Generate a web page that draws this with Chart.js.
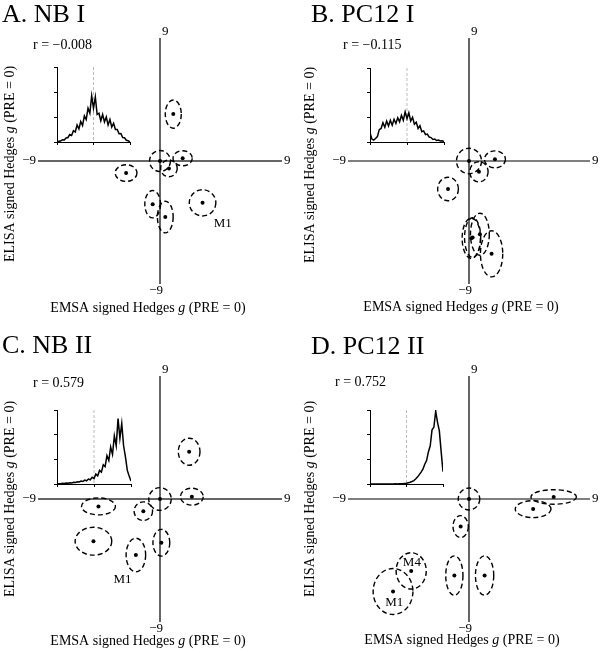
<!DOCTYPE html>
<html>
<head>
<meta charset="utf-8">
<script src="https://cdn.jsdelivr.net/npm/chart.js@4.4.1/dist/chart.umd.min.js"></script>
<style>
body { margin: 0; background: #fff; }
#fig { position: relative; width: 600px; height: 652px; }
#fig canvas { position: absolute; }
</style>
</head>
<body>
<div id="fig"></div>
<script>
// A. NB I - study means (EMSA g, ELISA g) and ellipse half-widths
let aX = [0.98, 0, 1.67, 0.66, -2.5, -0.54, 0.39, 3.14];
let aY = [3.43, 0, 0.2, -0.54, -0.88, -3.16, -4.1, -3.06];
let aRx = [0.59, 0.77, 0.71, 0.61, 0.8, 0.58, 0.58, 0.98];
let aRy = [1.03, 0.77, 0.55, 0.61, 0.61, 1.0, 1.16, 0.96];

// B. PC12 I
let bX = [0, 1.93, 0.74, -1.56, 0.17, 0.27, 0.81, 1.68];
let bY = [0, 0.12, -0.79, -2.05, -5.65, -5.6, -5.36, -6.79];
let bRx = [0.93, 0.78, 0.68, 0.77, 0.68, 0.6, 0.7, 0.83];
let bRy = [0.93, 0.62, 0.74, 0.86, 1.48, 1.45, 1.54, 1.69];

// C. NB II
let cX = [2.15, 0, 2.35, -4.54, -1.23, -4.91, 0.1, -1.78];
let cY = [3.46, 0, 0.17, -0.54, -0.89, -3.09, -3.2, -4.1];
let cRx = [0.8, 0.83, 0.84, 1.25, 0.68, 1.35, 0.62, 0.72];
let cRy = [0.99, 0.83, 0.62, 0.62, 0.68, 1.02, 0.98, 1.23];

// D. PC12 II
let dX = [0, 6.3, 4.77, -0.62, -1.09, 1.16, -4.3, -5.65];
let dY = [0, 0.15, -0.74, -2.02, -5.6, -5.6, -5.26, -6.77];
let dRx = [0.8, 1.69, 1.33, 0.57, 0.64, 0.68, 1.12, 1.48];
let dRy = [0.8, 0.53, 0.62, 0.8, 1.44, 1.44, 1.33, 1.68];

// study tags
let aTags = ["M1"], aTagX = [4.63], aTagY = [-4.56];
let bTags = [], bTagX = [], bTagY = [];
let cTags = ["M1"], cTagX = [-2.77], cTagY = [-5.93];
let dTags = ["M4", "M1"], dTagX = [-4.25, -5.56], dTagY = [-4.62, -7.6];

let rLabels = ["r = \u22120.008", "r = \u22120.115", "r = 0.579", "r = 0.752"];
let panelTitles = ["A. NB I", "B. PC12 I", "C. NB II", "D. PC12 II"];

// inset histograms (bootstrap r distribution)
let histBins = [-1, -0.95, -0.9, -0.85, -0.8, -0.75, -0.7, -0.65, -0.6, -0.55, -0.5,
  -0.45, -0.4, -0.35, -0.3, -0.25, -0.2, -0.15, -0.1, -0.05, 0, 0.05, 0.1, 0.15, 0.2,
  0.25, 0.3, 0.35, 0.4, 0.45, 0.5, 0.55, 0.6, 0.65, 0.7, 0.75, 0.8, 0.85, 0.9, 0.95, 1];
let histA = [0, 0.03, 0.04, 0.09, 0.08, 0.16, 0.18, 0.3, 0.26, 0.45, 0.4, 0.68, 0.52, 0.82,
  0.66, 1.05, 0.9, 1.35, 1.15, 1.85, 1.35, 1.8, 1.1, 1.15, 0.85, 1.1, 0.8, 1.0, 0.68, 0.9,
  0.6, 0.75, 0.5, 0.5, 0.33, 0.34, 0.18, 0.17, 0.07, 0.05, 0.01];
let histB = [0.38, 0.12, 0.08, 0.14, 0.22, 0.5, 0.55, 0.78, 0.6, 0.85, 0.65, 0.88, 0.68,
  0.92, 0.75, 0.98, 0.82, 1.08, 0.88, 1.22, 0.95, 1.18, 0.85, 1.0, 0.72, 0.8, 0.55, 0.66,
  0.42, 0.45, 0.3, 0.32, 0.2, 0.18, 0.1, 0.12, 0.06, 0.08, 0.04, 0.05, 0.02];
let histC = [0, 0.01, 0.01, 0.03, 0.02, 0.04, 0.03, 0.05, 0.04, 0.07, 0.06, 0.09, 0.08,
  0.12, 0.1, 0.16, 0.13, 0.2, 0.17, 0.27, 0.22, 0.4, 0.33, 0.55, 0.48, 0.78, 0.7, 1.15,
  0.95, 1.5, 1.2, 1.95, 1.55, 2.65, 1.85, 2.45, 1.55, 1.1, 0.55, 0.32, 0.12];
let histD = [0, 0, 0, 0, 0, 0, 0, 0, 0, 0, 0, 0, 0, 0, 0.01, 0, 0.01, 0.01, 0.01, 0.02,
  0.03, 0.05, 0.07, 0.1, 0.14, 0.2, 0.28, 0.38, 0.48, 0.6, 0.8, 0.95, 1.3, 1.55, 2.2,
  2.3, 2.95, 2.5, 2.15, 1.3, 0.5];

const serif = '"Liberation Serif", "Times New Roman", serif';
const fig = document.getElementById("fig");

const panels = [
  { ox: 0, oy: 0, cx: 160, cy: 161, hx: 122, hy: 123, axis: "#666", axisW: 2,
    xs: aX, ys: aY, rx: aRx, ry: aRy, tags: aTags, tagX: aTagX, tagY: aTagY,
    hist: histA, inset: [57, 67, 130, 142], titlePos: [2, 15], rPos: [33, 45],
    xTitle: [148, 308], yTitle: [10, 164] },
  { ox: 300, oy: 0, cx: 169, cy: 161, hx: 121, hy: 123, axis: "#000", axisW: 1.2,
    xs: bX, ys: bY, rx: bRx, ry: bRy, tags: bTags, tagX: bTagX, tagY: bTagY,
    hist: histB, inset: [70, 68, 144, 142], titlePos: [11, 15], rPos: [43, 45],
    xTitle: [161, 307], yTitle: [10, 165] },
  { ox: 0, oy: 326, cx: 160, cy: 173, hx: 122, hy: 123, axis: "#666", axisW: 2,
    xs: cX, ys: cY, rx: cRx, ry: cRy, tags: cTags, tagX: cTagX, tagY: cTagY,
    hist: histC, inset: [57, 84, 131, 158], titlePos: [2, 20], rPos: [33, 57],
    xTitle: [148, 315], yTitle: [10, 173] },
  { ox: 300, oy: 326, cx: 169, cy: 173, hx: 121, hy: 123, axis: "#000", axisW: 1.2,
    xs: dX, ys: dY, rx: dRx, ry: dRy, tags: dTags, tagX: dTagX, tagY: dTagY,
    hist: histD, inset: [70, 84, 143, 158], titlePos: [11, 21], rPos: [35, 56],
    xTitle: [162, 314], yTitle: [10, 173] }
];

function drawRuns(ctx, runs, x, y, size) {
  let w = 0;
  runs.forEach(r => {
    ctx.font = (r[1] ? "italic " : "") + size + "px " + serif;
    w += ctx.measureText(r[0]).width;
  });
  let px = x - w / 2;
  ctx.textAlign = "left";
  ctx.textBaseline = "middle";
  runs.forEach(r => {
    ctx.font = (r[1] ? "italic " : "") + size + "px " + serif;
    ctx.fillText(r[0], px, y);
    px += ctx.measureText(r[0]).width;
  });
}

function makeCanvas(left, top, w, h) {
  const c = document.createElement("canvas");
  c.width = w;
  c.height = h;
  c.style.left = left + "px";
  c.style.top = top + "px";
  c.style.width = w + "px";
  c.style.height = h + "px";
  fig.appendChild(c);
  return c;
}

panels.forEach((p, k) => {
  const main = makeCanvas(p.ox, p.oy, 300, 326);

  const crossPlugin = {
    id: "cross" + k,
    beforeDatasetsDraw(chart) {
      const ctx = chart.ctx, sx = chart.scales.x, sy = chart.scales.y;
      const x0 = sx.getPixelForValue(0), y0 = sy.getPixelForValue(0);
      ctx.save();
      ctx.strokeStyle = p.axis;
      ctx.lineWidth = p.axisW;
      ctx.beginPath();
      ctx.moveTo(sx.getPixelForValue(-9), y0);
      ctx.lineTo(sx.getPixelForValue(9), y0);
      ctx.moveTo(x0, sy.getPixelForValue(9));
      ctx.lineTo(x0, sy.getPixelForValue(-9));
      ctx.stroke();

      // dashed ellipses round each study point
      ctx.strokeStyle = "#000";
      ctx.lineWidth = 1.4;
      ctx.setLineDash([5, 3]);
      p.xs.forEach((x, i) => {
        const cxp = sx.getPixelForValue(x), cyp = sy.getPixelForValue(p.ys[i]);
        const rxp = Math.abs(sx.getPixelForValue(x + p.rx[i]) - cxp);
        const ryp = Math.abs(sy.getPixelForValue(p.ys[i] + p.ry[i]) - cyp);
        ctx.beginPath();
        ctx.ellipse(cxp, cyp, rxp, ryp, 0, 0, 2 * Math.PI);
        ctx.stroke();
      });
      ctx.restore();
    },
    afterDraw(chart) {
      const ctx = chart.ctx, sx = chart.scales.x, sy = chart.scales.y;
      const x0 = sx.getPixelForValue(0), y0 = sy.getPixelForValue(0);
      ctx.save();
      ctx.fillStyle = "#000";
      ctx.textBaseline = "middle";
      ctx.font = "13px " + serif;
      ctx.textAlign = "left";
      ctx.fillText("9", x0 + 2, sy.getPixelForValue(9) - 6);
      ctx.fillText("9", sx.getPixelForValue(9) + 2, y0);
      ctx.textAlign = "right";
      ctx.fillText("\u22129", x0 + 3, sy.getPixelForValue(-9) + 7);
      ctx.fillText("\u22129", sx.getPixelForValue(-9) - 2, y0);

      ctx.font = "13px " + serif;
      ctx.textAlign = "center";
      p.tags.forEach((t, i) => {
        ctx.fillText(t, sx.getPixelForValue(p.tagX[i]), sy.getPixelForValue(p.tagY[i]));
      });

      ctx.font = "26px " + serif;
      ctx.textAlign = "left";
      ctx.fillText(panelTitles[k], p.titlePos[0], p.titlePos[1]);

      ctx.font = "14px " + serif;
      ctx.fillText(rLabels[k], p.rPos[0], p.rPos[1]);

      drawRuns(ctx, [["EMSA signed Hedges ", false], ["g", true], [" (PRE = 0)", false]],
        p.xTitle[0], p.xTitle[1], 14);
      ctx.translate(p.yTitle[0], p.yTitle[1]);
      ctx.rotate(-Math.PI / 2);
      drawRuns(ctx, [["ELISA signed Hedges ", false], ["g", true], [" (PRE = 0)", false]],
        0, 0, 14);
      ctx.restore();
    }
  };

  new Chart(main, {
    type: "scatter",
    data: {
      datasets: [{
        data: p.xs.map((x, i) => ({ x: x, y: p.ys[i] })),
        pointRadius: 2,
        pointBackgroundColor: "#000",
        pointBorderWidth: 0
      }]
    },
    options: {
      responsive: false,
      animation: false,
      layout: {
        padding: {
          left: p.cx - p.hx, right: 300 - p.cx - p.hx,
          top: p.cy - p.hy, bottom: 326 - p.cy - p.hy
        }
      },
      scales: {
        x: { type: "linear", min: -9, max: 9, display: false },
        y: { type: "linear", min: -9, max: 9, display: false }
      },
      plugins: { legend: { display: false }, tooltip: { enabled: false } }
    },
    plugins: [crossPlugin]
  });

  // inset histogram
  const L = p.inset[0], T = p.inset[1], R = p.inset[2], B = p.inset[3];
  const inset = makeCanvas(p.ox + L - 10, p.oy + T - 10, R - L + 20, B - T + 20);
  const zeroLine = {
    id: "zero" + k,
    beforeDatasetsDraw(chart) {
      const ctx = chart.ctx, a = chart.chartArea;
      const x = chart.scales.x.getPixelForValue(0);
      ctx.save();
      ctx.strokeStyle = "#bbb";
      ctx.lineWidth = 1;
      ctx.setLineDash([3, 2]);
      ctx.beginPath();
      ctx.moveTo(x, a.top);
      ctx.lineTo(x, a.bottom);
      ctx.stroke();
      ctx.restore();
    }
  };
  new Chart(inset, {
    type: "line",
    data: {
      datasets: [{
        data: histBins.map((b, i) => ({ x: b, y: p.hist[i] })),
        borderColor: "#000",
        borderWidth: 1.5,
        pointRadius: 0,
        tension: 0
      }]
    },
    options: {
      responsive: false,
      animation: false,
      layout: { padding: { left: 7, top: 10, right: 10, bottom: 7 } },
      scales: {
        x: {
          type: "linear", min: -1, max: 1,
          ticks: { display: false, stepSize: 1 },
          grid: { drawOnChartArea: false, tickLength: 3, color: "#000" },
          border: { color: "#000", width: 1 }
        },
        y: {
          type: "linear", min: 0, max: 3,
          ticks: { display: false, stepSize: 1 },
          grid: { drawOnChartArea: false, tickLength: 3, color: "#000" },
          border: { color: "#000", width: 1 }
        }
      },
      plugins: { legend: { display: false }, tooltip: { enabled: false } }
    },
    plugins: [zeroLine]
  });
});
</script>
</body>
</html>
